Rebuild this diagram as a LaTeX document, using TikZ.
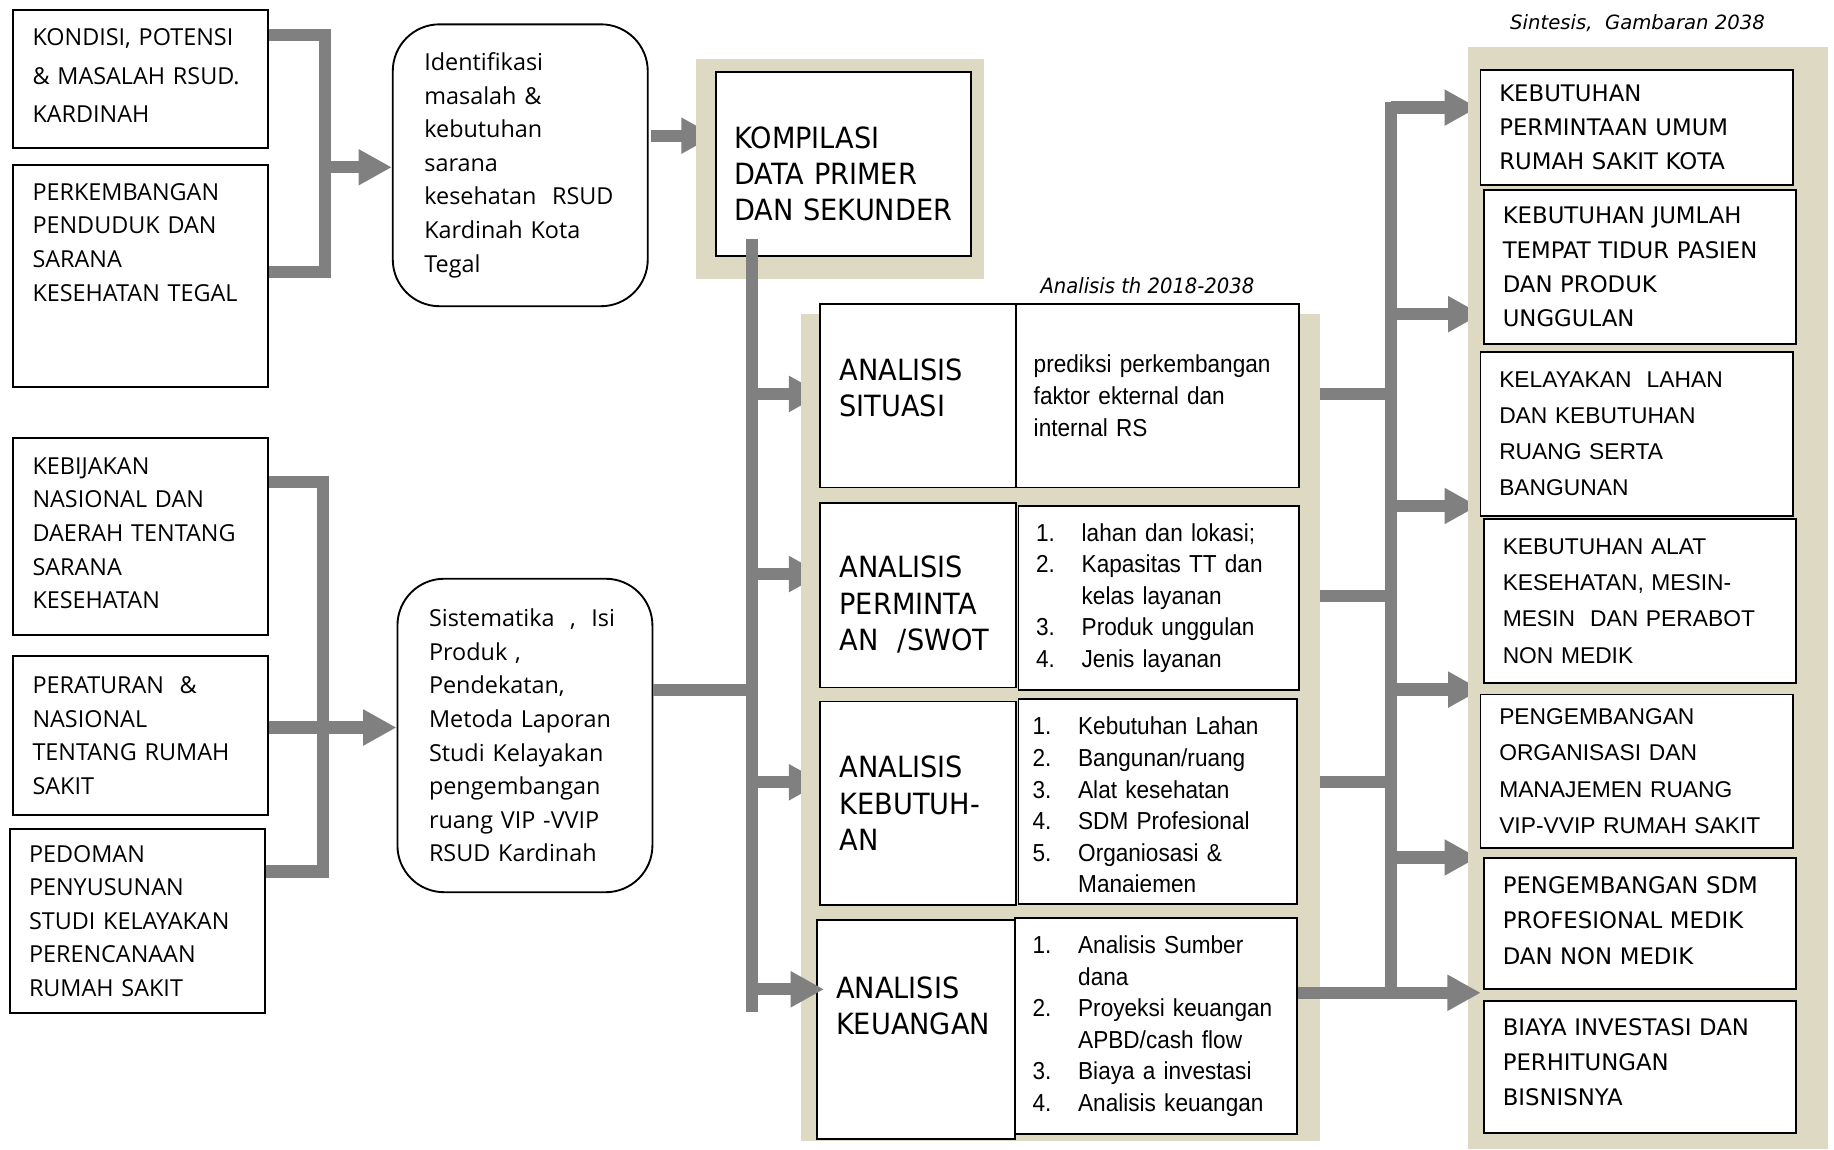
\documentclass[tikz,border=0pt]{standalone}
\usepackage{fontspec}
\newfontfamily\osfont{Open Sans}
\newfontfamily\vfont{DejaVu Sans}
\newfontfamily\tfont[FakeStretch=0.93]{DejaVu Sans}
\newfontfamily\afont{Liberation Sans}
\newfontfamily\anfont[FakeStretch=0.92]{Liberation Sans}
\usetikzlibrary{arrows.meta,calc}
\definecolor{tanbg}{RGB}{221,217,195}
\definecolor{pipegray}{RGB}{128,128,128}
\pgfdeclarelayer{under}
\pgfdeclarelayer{tan}
\pgfsetlayers{under,tan,main}
% numbered list line: number, then text
\newcommand\li[2]{\makebox[39pt][l]{#1}\mbox{#2}}
\tikzset{
  box/.style={draw, line width=1.6pt, fill=white, anchor=north west, inner ysep=0pt, align=left},
  srcbox/.style={box, inner xsep=17pt, text width=184pt, minimum width=218pt, font=\osfont\fontsize{20}{28.7}\selectfont},
  roundbox/.style={srcbox, rounded corners=40pt, inner xsep=27pt, text width=164pt},
  compbox/.style={box, inner xsep=16pt, font=\tfont\fontsize{25}{31}\selectfont},
  headcell/.style={compbox, inner xsep=17pt, text width=134pt, minimum width=168pt},
  desccell/.style={box, inner xsep=15pt, font=\anfont\fontsize{21}{27}\selectfont},
  outbox/.style={box, inner xsep=16pt, text width=235pt, minimum width=267pt, font=\vfont\fontsize{19.5}{29.5}\selectfont},
  outboxa/.style={outbox, font=\afont\fontsize{19.5}{31}\selectfont},
  tanfill/.style={fill=tanbg, anchor=north west, inner sep=0pt},
  pipe/.style={draw=pipegray, line width=10.5pt},
  flow/.style={pipe, -{Triangle[length=28.5pt,width=29pt]}},
}
\begin{document}
\begin{tikzpicture}[x=1pt, y=-1pt]
\useasboundingbox (0,0) rectangle (1568,983);

% background panels
\begin{pgfonlayer}{tan}
  \node[tanfill, minimum width=246pt, minimum height=188pt] (kompbg) at (595,50) {};
  \node[tanfill, minimum width=443pt, minimum height=707pt] (midbg) at (685,268) {};
  \node[tanfill, minimum width=308pt, minimum height=942pt] (sintbg) at (1255,40) {};
\end{pgfonlayer}

% sources
\node[srcbox, minimum height=118pt, font=\osfont\fontsize{20}{33}\selectfont] (kondisi) at (10,8)
  {KONDISI, POTENSI\\\mbox{\& MASALAH RSUD.}\\KARDINAH\\[-27pt]\mbox{}};
\node[srcbox, minimum height=190pt] (perkembangan) at (10,140)
  {PERKEMBANGAN\\PENDUDUK DAN\\SARANA\\\mbox{KESEHATAN TEGAL}\\[28.7pt]\mbox{}};
\node[srcbox, minimum height=168pt] (kebijakan) at (10,374)
  {KEBIJAKAN\\NASIONAL DAN\\\mbox{DAERAH TENTANG}\\SARANA\\KESEHATAN\\[-22.7pt]\mbox{}};
\node[srcbox, minimum height=136pt] (peraturan) at (10,560)
  {PERATURAN~ \&\\NASIONAL\\\mbox{TENTANG RUMAH}\\SAKIT};
\node[srcbox, minimum height=157pt, inner xsep=16pt, text width=186pt] (pedoman) at (8,708)
  {PEDOMAN\\PENYUSUNAN\\\mbox{STUDI KELAYAKAN}\\PERENCANAAN\\RUMAH SAKIT};

\node[roundbox, minimum height=241pt] (identifikasi) at (335,20)
  {Identifikasi\\masalah \&\\kebutuhan\\sarana\\\mbox{kesehatan~ RSUD}\\Kardinah Kota\\Tegal};
\node[roundbox, minimum height=268pt] (sistematika) at (339,494)
  {\mbox{Sistematika~ ,~ Isi}\\Produk ,\\Pendekatan,\\\mbox{Metoda Laporan}\\\mbox{Studi Kelayakan}\\pengembangan\\ruang VIP -VVIP\\RSUD Kardinah};

% compilation and analysis
\node[compbox, text width=186pt, minimum width=218pt, minimum height=157pt] (kompilasi) at (611,61)
  {\mbox{}\\[4pt]KOMPILASI\\DATA PRIMER\\\mbox{DAN SEKUNDER}};
\node[font=\tfont\itshape\fontsize{18}{20}\selectfont] (analisistitle) at (981,244) {Analisis th 2018-2038};

\node[headcell, minimum height=157pt] (situasi) at (700,259) {ANALISIS\\SITUASI\\[-17pt]\mbox{}};
\node[desccell, text width=212pt, minimum width=242pt, minimum height=157pt] (situasidesc) at (868,259)
  {\mbox{prediksi perkembangan}\\faktor ekternal dan\\internal RS};
\node[headcell, minimum height=158pt] (permintaan) at (700,429) {\mbox{}\\[4pt]ANALISIS\\PERMINTA\\AN\,\, /SWOT};
\node[desccell, text width=210pt, minimum width=240pt, minimum height=157pt] (permintaandesc) at (870,432)
  {\li{1.}{lahan dan lokasi;}\\\li{2.}{Kapasitas TT dan}\\\li{}{kelas layanan}\\\li{3.}{Produk unggulan}\\\li{4.}{Jenis layanan}};
\node[headcell, minimum height=174pt] (kebutuhan) at (700,599) {ANALISIS\\KEBUTUH-\\AN};
\node[desccell, inner xsep=12pt, text width=214pt, minimum width=238pt, minimum height=175pt] (kebutuhandesc) at (870,597)
  {\mbox{}\\[-1.7pt]\li{1.}{Kebutuhan Lahan}\\\li{2.}{Bangunan/ruang}\\\li{3.}{Alat kesehatan}\\\li{4.}{SDM Profesional}\\\li{5.}{Organiosasi \&}\\\li{}{Manajemen}};
% last line is cut off at the frame
\fill[white] ($(kebutuhandesc.south west)+(2,-11)$) rectangle ($(kebutuhandesc.south east)+(-2,-1.6)$);
\node[headcell, inner xsep=16pt, text width=137pt, minimum width=169pt, minimum height=187pt] (keuangan) at (698,786)
  {ANALISIS\\KEUANGAN\\[10pt]\mbox{}};
\node[desccell, text width=211pt, minimum width=241pt, minimum height=185pt] (keuangandesc) at (867,784)
  {\li{1.}{Analisis Sumber}\\\li{}{dana}\\\li{2.}{Proyeksi keuangan}\\\li{}{APBD/cash flow}\\\li{3.}{Biaya a investasi}\\\li{4.}{Analisis keuangan}};

% synthesis
\node[font=\vfont\itshape\fontsize{16.8}{20}\selectfont] (sintesistitle) at (1400,20) {Sintesis,~ Gambaran 2038};
\node[outbox, minimum height=98pt, font=\vfont\fontsize{19.5}{29}\selectfont] (permintaanumum) at (1265,59)
  {KEBUTUHAN\\PERMINTAAN UMUM\\RUMAH SAKIT KOTA};
\node[outbox, minimum height=131pt, font=\vfont\fontsize{19.5}{29.3}\selectfont] (jumlahtt) at (1268,162)
  {KEBUTUHAN JUMLAH\\\mbox{TEMPAT TIDUR PASIEN}\\DAN PRODUK\\UNGGULAN};
\node[outboxa, minimum height=140pt] (kelayakan) at (1265,300)
  {KELAYAKAN~ LAHAN\\DAN KEBUTUHAN\\RUANG SERTA\\BANGUNAN};
\node[outboxa, minimum height=140pt] (alat) at (1268,443)
  {KEBUTUHAN ALAT\\KESEHATAN, MESIN-\\\mbox{MESIN~ DAN PERABOT}\\NON MEDIK};
\node[outboxa, minimum height=131pt] (organisasi) at (1265,593)
  {PENGEMBANGAN\\ORGANISASI DAN\\MANAJEMEN RUANG\\\mbox{VIP-VVIP RUMAH SAKIT}};
\node[outbox, minimum height=112pt, font=\vfont\fontsize{19.5}{30.5}\selectfont] (sdm) at (1268,733)
  {PENGEMBANGAN SDM\\PROFESIONAL MEDIK\\DAN NON MEDIK\\[-24.5pt]\mbox{}};
\node[outbox, minimum height=113pt, font=\vfont\fontsize{19.5}{30}\selectfont] (biaya) at (1268,855)
  {\mbox{BIAYA INVESTASI DAN}\\PERHITUNGAN\\BISNISNYA\\[-22pt]\mbox{}};

% buses
\coordinate (bus1) at (278,143);
\coordinate (bus2) at (276,622);
\coordinate (maintop) at ([xshift=32pt,yshift=15pt]kompilasi.south west);
\coordinate (mainbot) at (643,865);
\coordinate (sinttop) at (1189,87);
\coordinate (sintbot) at (1189,852.5);

% connectors partly hidden behind the panels
\begin{pgfonlayer}{under}
  \coordinate (idout) at ([yshift=-96pt]identifikasi.north east);
  \draw[flow] ([xshift=2pt]idout) -- (idout -| kompilasi.west);
  \foreach \n/\s in {situasi/1.5, permintaan/18, kebutuhan/18}{
    \coordinate (br) at ([yshift=\s pt]\n.west);
    \draw[flow] (br -| maintop) -- ([xshift=3pt]br);
  }
  \foreach \n/\s in {situasidesc/1.5, permintaandesc/1.5, kebutuhandesc/16.5}{
    \coordinate (rr) at ([yshift=\s pt]\n.east);
    \draw[pipe] (rr) -- (rr -| sinttop);
  }
  \foreach \n/\a/\s in {permintaanumum/north west/-33, jumlahtt/south west/26, kelayakan/south west/9, alat/south west/-5, organisasi/south west/-7.5}{
    \coordinate (ra) at ([yshift=\s pt]\n.\a);
    \draw[flow] (ra -| sinttop) -- ([xshift=-1.5pt]ra);
  }
\end{pgfonlayer}

\draw[pipe] ([yshift=-22pt]kondisi.north east) -| (bus1) |- ([yshift=3pt]perkembangan.east);
\draw[flow] (bus1) -- (bus1 -| identifikasi.west);
\draw[pipe] ([yshift=-38pt]kebijakan.north east) -| (bus2) |- ([yshift=-37pt]pedoman.north east);
\draw[flow] (peraturan.east |- bus2) -- (bus2 -| sistematika.west);

\draw[pipe] (maintop) -- (mainbot);
\coordinate (sisout) at ([yshift=39pt]sistematika.east);
\draw[pipe] (sisout) -- (sisout -| maintop);
\coordinate (br4) at ([yshift=34.5pt]keuangan.west);
\draw[flow] (br4 -| maintop) -- ([xshift=6.5pt]br4);

\draw[pipe] (sinttop) -- (sintbot);
\coordinate (rr4) at ([yshift=28.5pt]keuangandesc.east);
\draw[flow] (rr4) -- ([xshift=-2pt]rr4 -| sdm.west);
\end{tikzpicture}
\end{document}
